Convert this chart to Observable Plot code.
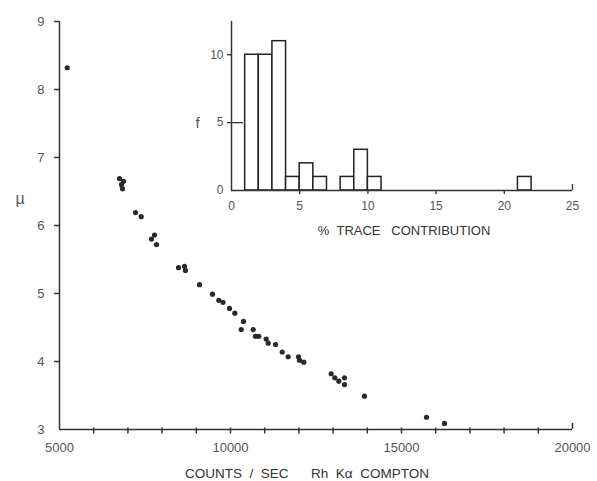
<!DOCTYPE html>
<html><head><meta charset="utf-8">
<script src="https://cdn.jsdelivr.net/npm/d3@7"></script>
<script src="https://cdn.jsdelivr.net/npm/@observablehq/plot@0.6"></script>
<style>
html,body{margin:0;padding:0;background:#fff;}
#chart{position:relative;width:597px;height:481px;background:#fff;}
#chart svg{position:absolute;left:0;top:0;}
</style></head><body><div id="chart"></div>
<script>
// Main scatter: counts/sec Rh Kα Compton vs µ
const countsPerSec = [5225, 6754, 6871, 6813, 6842, 7222, 7389, 7778, 7690, 7836,
  8480, 8655, 8684, 9094, 9474, 9658, 9781, 9971, 10126, 10380,
  10313, 10664, 10731, 10827, 11044, 11102, 11316, 11512, 11687, 11988,
  12018, 12143, 12944, 13050, 13167, 13333, 13333, 13918, 15731, 16257];
const muValues = [8.32, 6.69, 6.65, 6.60, 6.54, 6.19, 6.13, 5.86, 5.80, 5.72,
  5.38, 5.40, 5.34, 5.13, 4.99, 4.90, 4.87, 4.78, 4.71, 4.59,
  4.47, 4.47, 4.37, 4.37, 4.33, 4.27, 4.25, 4.14, 4.07, 4.07,
  4.02, 3.99, 3.82, 3.76, 3.71, 3.76, 3.66, 3.49, 3.18, 3.09];

// Inset histogram: % trace contribution
const binStart = [1, 2, 3, 4, 5, 6, 8, 9, 10, 21];
const binEnd   = [2, 3, 4, 5, 6, 7, 9, 10, 11, 22];
const freq     = [10, 10, 11, 1, 2, 1, 1, 3, 1, 1];

// Ticks
const xLabelTicks = [5000, 10000, 15000, 20000];
const xMinorTicks = [6000, 7000, 8000, 9000, 10000, 11000, 12000, 13000, 14000, 15000, 16000, 17000, 18000, 19000];
const yTicks = [4, 5, 6, 7, 8, 9];
const insetXTicks = [0, 5, 10, 15, 20, 25];
const insetYTicks = [0, 5, 10];

const xTitle = "COUNTS\u00A0\u00A0/\u00A0\u00A0SEC\u00A0\u00A0\u00A0\u00A0\u00A0\u00A0Rh\u00A0\u00A0K\u03B1\u00A0\u00A0COMPTON";
const insetTitle = "%\u00A0\u00A0TRACE\u00A0\u00A0\u00A0CONTRIBUTION";

const points = countsPerSec.map((c, i) => ({c, mu: muValues[i]}));
const bins = freq.map((f, i) => ({x1: binStart[i], x2: binEnd[i], f}));

const font = "'Liberation Sans', Arial, sans-serif";
const axisColor = "#333";
const labelColor = "#555";

const main = Plot.plot({
  width: 597, height: 481,
  marginLeft: 59, marginRight: 25, marginTop: 21, marginBottom: 52,
  style: {fontFamily: font, fontSize: "13px", background: "white", color: labelColor},
  x: {domain: [5000, 20000]},
  y: {domain: [3, 9]},
  marks: [
    Plot.ruleY([3], {stroke: axisColor, strokeWidth: 1.5}),
    Plot.ruleX([5000], {stroke: axisColor, strokeWidth: 1.5}),
    Plot.axisX(xMinorTicks, {tickSize: 6, dy: -1.5, tickFormat: () => "", label: null, stroke: axisColor, strokeWidth: 1.5}),
    Plot.axisX([20000], {tickSize: -6, tickFormat: () => "", label: null, stroke: axisColor, strokeWidth: 1.5}),
    Plot.axisX(xLabelTicks, {tickSize: 0, tickPadding: 13, tickFormat: d => String(d), label: null, fill: labelColor}),
    Plot.axisY(yTicks, {tickSize: 5, tickPadding: 10, tickFormat: d => String(d), label: null, stroke: axisColor, strokeWidth: 1.5, fill: labelColor}),
    Plot.axisY([3], {tickSize: 0, tickPadding: 15, tickFormat: d => String(d), label: null, fill: labelColor}),
    Plot.dot(points, {x: "c", y: "mu", r: 2.6, fill: "#2a2a2a", stroke: "none"}),
    Plot.text([xTitle], {frameAnchor: "bottom", dx: -9, dy: 44, lineAnchor: "middle", fontSize: 13.5, fill: "#333", letterSpacing: 1.2}),
    Plot.text(["\u00B5"], {frameAnchor: "left", dx: -44, dy: -27, lineAnchor: "middle", fontSize: 16, fill: "#555"})
  ]
});

const inset = Plot.plot({
  width: 597, height: 481,
  marginLeft: 231, marginRight: 25, marginTop: 21, marginBottom: 291,
  style: {fontFamily: font, fontSize: "12px", background: "none", color: labelColor},
  x: {domain: [0, 25]},
  y: {domain: [0, 12.45]},
  marks: [
    Plot.rectY(bins, {x1: "x1", x2: "x2", y: "f", fill: "white", stroke: "#222", strokeWidth: 1.5, inset: 0}),
    Plot.ruleY([0], {stroke: axisColor, strokeWidth: 1.5}),
    Plot.ruleX([0], {stroke: axisColor, strokeWidth: 1.5}),
    Plot.axisX(insetXTicks.slice(1, 5), {tickSize: 4, tickFormat: () => "", label: null, stroke: axisColor, strokeWidth: 1.3}),
    Plot.axisX([25], {tickSize: -6, tickFormat: () => "", label: null, stroke: axisColor, strokeWidth: 1.3}),
    Plot.axisX(insetXTicks, {tickSize: 0, tickPadding: 11, tickFormat: d => String(d), label: null, fill: labelColor}),
    Plot.axisY(insetYTicks.slice(1), {tickSize: 4, tickPadding: 4, tickFormat: d => String(d), label: null, stroke: axisColor, strokeWidth: 1.3, fill: labelColor}),
    Plot.axisY([0], {tickSize: 0, tickPadding: 8, tickFormat: d => String(d), label: null, fill: labelColor}),
    Plot.axisY([5], {tickSize: -12, tickFormat: () => "", label: null, stroke: axisColor, strokeWidth: 1.3}),
    Plot.text([insetTitle], {frameAnchor: "bottom", dx: 2, dy: 40, lineAnchor: "middle", fontSize: 13, fill: "#333", letterSpacing: 2.2}),
    Plot.text(["f"], {frameAnchor: "left", dx: -36, dy: 17, lineAnchor: "middle", fontSize: 15, fill: "#555"})
  ]
});

const chart = document.getElementById("chart");
chart.appendChild(main);
chart.appendChild(inset);
</script>
</body></html>
